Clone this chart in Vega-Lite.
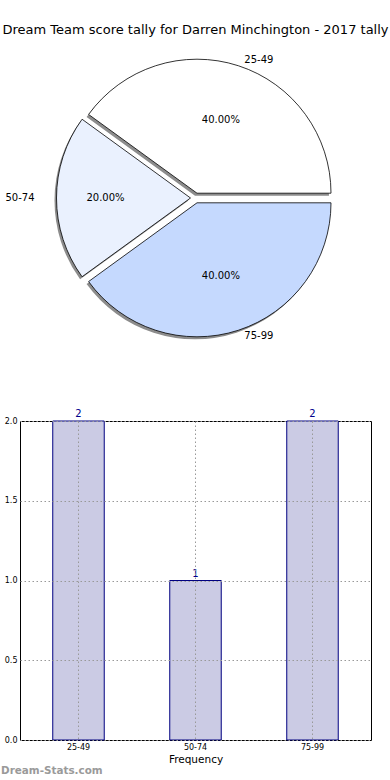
{
  "$schema": "https://vega.github.io/schema/vega-lite/v6.json",
  "background": "white",
  "padding": {"left": 0, "top": 24, "right": 0, "bottom": 0},
  "bounds": "flush",
  "spacing": 70,
  "datasets": {
    "tally": [
      {"bin": "25-49", "count": 2},
      {"bin": "50-74", "count": 1},
      {"bin": "75-99", "count": 2}
    ]
  },
  "config": {
    "view": {"stroke": null},
    "font": "DejaVu Sans"
  },
  "vconcat": [
    {
      "width": 351,
      "height": 306,
      "title": {
        "text": "Dream Team score tally for Darren Minchington - 2017 tally",
        "font": "DejaVu Sans",
        "fontSize": 13,
        "fontWeight": "normal",
        "color": "black",
        "anchor": "middle",
        "frame": "group",
        "offset": 8
      },
      "data": {"name": "tally"},
      "transform": [
        {"joinaggregate": [{"op": "sum", "field": "count", "as": "total"}]},
        {"calculate": "datum.count / datum.total", "as": "share"},
        {"stack": "count", "groupby": [], "sort": [{"field": "bin", "order": "descending"}], "as": ["t0", "t1"]},
        {"calculate": "(datum.t0 + datum.t1) / 2", "as": "tm"}
      ],
      "encoding": {
        "theta": {"field": "t0", "type": "quantitative", "scale": {"domain": [0, 5], "range": [1.5708, 7.854]}},
        "theta2": {"field": "t1"}
      },
      "layer": [
        {
          "transform": [{"filter": "datum.bin == '25-49'"}],
          "mark": {"type": "arc", "radius": 134, "fill": "#8c8c8c", "xOffset": -0.5, "yOffset": -2.3}
        },
        {
          "transform": [{"filter": "datum.bin == '50-74'"}],
          "mark": {"type": "arc", "radius": 134, "fill": "#8c8c8c", "xOffset": -7, "yOffset": 2.5}
        },
        {
          "transform": [{"filter": "datum.bin == '75-99'"}],
          "mark": {"type": "arc", "radius": 134, "fill": "#8c8c8c", "xOffset": -0.5, "yOffset": 7.3}
        },
        {
          "transform": [{"filter": "datum.bin == '25-49'"}],
          "mark": {"type": "arc", "radius": 134, "fill": "#ffffff", "stroke": "black", "strokeWidth": 0.8, "xOffset": 1.5, "yOffset": -4.8}
        },
        {
          "transform": [{"filter": "datum.bin == '50-74'"}],
          "mark": {"type": "arc", "radius": 134, "fill": "#eaf1fe", "stroke": "black", "strokeWidth": 0.8, "xOffset": -5, "yOffset": 0}
        },
        {
          "transform": [{"filter": "datum.bin == '75-99'"}],
          "mark": {"type": "arc", "radius": 134, "fill": "#c5d9fe", "stroke": "black", "strokeWidth": 0.8, "xOffset": 1.5, "yOffset": 4.8}
        },
        {
          "transform": [{"filter": "datum.bin != '50-74'"}],
          "mark": {"type": "text", "radius": 82, "fontSize": 10, "color": "black", "align": "center", "baseline": "middle"},
          "encoding": {
            "theta": {"field": "tm", "type": "quantitative"},
            "theta2": null,
            "text": {"field": "share", "format": ".2%"}
          }
        },
        {
          "transform": [{"filter": "datum.bin == '50-74'"}],
          "mark": {"type": "text", "radius": 90, "fontSize": 10, "color": "black", "align": "center", "baseline": "middle"},
          "encoding": {
            "theta": {"field": "tm", "type": "quantitative"},
            "theta2": null,
            "text": {"field": "share", "format": ".2%"}
          }
        },
        {
          "transform": [{"filter": "datum.bin != '50-74'"}],
          "mark": {"type": "text", "radius": 145, "dx": 4, "fontSize": 10, "color": "black", "align": "left", "baseline": "middle"},
          "encoding": {
            "theta": {"field": "tm", "type": "quantitative"},
            "theta2": null,
            "text": {"field": "bin"}
          }
        },
        {
          "transform": [{"filter": "datum.bin == '50-74'"}],
          "mark": {"type": "text", "radius": 161, "fontSize": 10, "color": "black", "align": "right", "baseline": "middle"},
          "encoding": {
            "theta": {"field": "tm", "type": "quantitative"},
            "theta2": null,
            "text": {"field": "bin"}
          }
        }
      ]
    },
    {
      "width": 351,
      "height": 319,
      "data": {"name": "tally"},
      "view": {"stroke": "black", "strokeWidth": 1},
      "title": {
        "text": "Dream-Stats.com",
        "orient": "bottom",
        "anchor": "start",
        "frame": "group",
        "font": "DejaVu Sans",
        "fontSize": 10.4,
        "fontWeight": "bold",
        "color": "#9a9a9a",
        "offset": 1,
        "dx": -19
      },
      "encoding": {
        "x": {
          "field": "bin",
          "type": "nominal",
          "title": "Frequency",
          "scale": {"paddingInner": 0.56, "paddingOuter": 0.28},
          "axis": {
            "labelAngle": 0,
            "labelFontSize": 8,
            "labelColor": "black",
            "labelPadding": 3,
            "ticks": false,
            "domain": false,
            "grid": true,
            "bandPosition": 0.5,
            "gridColor": "#999999",
            "gridDash": [1.5, 2.5],
            "gridWidth": 1,
            "zindex": 1,
            "titleFontSize": 10.5,
            "titleFontWeight": "normal",
            "titleColor": "black",
            "titlePadding": 3
          }
        }
      },
      "layer": [
        {
          "mark": {"type": "bar", "fill": "#cbcbe4", "stroke": "#000080", "strokeWidth": 1},
          "encoding": {
            "y": {
              "field": "count",
              "type": "quantitative",
              "title": null,
              "scale": {"domain": [0, 2]},
              "axis": {
                "values": [0, 0.5, 1, 1.5, 2],
                "format": ".1f",
                "labelFontSize": 8,
                "labelColor": "black",
                "labelPadding": 3,
                "ticks": false,
                "domain": false,
                "grid": true,
                "gridColor": "#999999",
                "gridDash": [1.5, 2.5],
                "gridWidth": 1,
                "zindex": 1
              }
            }
          }
        },
        {
          "mark": {"type": "text", "fontSize": 10, "color": "#00008b", "baseline": "bottom", "dy": -2},
          "encoding": {
            "y": {"field": "count", "type": "quantitative"},
            "text": {"field": "count"}
          }
        }
      ]
    }
  ]
}
